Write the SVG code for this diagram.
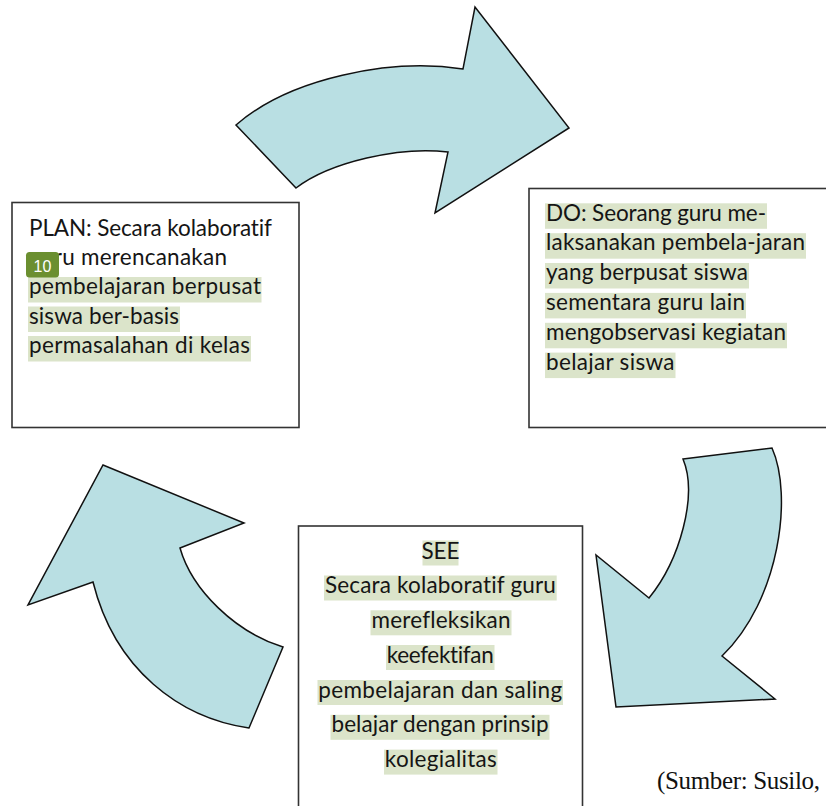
<svg xmlns="http://www.w3.org/2000/svg" width="826" height="806" viewBox="0 0 826 806">
<style>
.box{fill:#ffffff;stroke:#333333;stroke-width:1.6}
.arrow{fill:#b9dfe3;stroke:#111111;stroke-width:1.5;stroke-linejoin:miter}
.t{font-family:Lato,"Open Sans","Noto Sans",sans-serif;font-size:22.5px;fill:#151515;font-variant-ligatures:none;font-feature-settings:"liga" 0}
.c{text-anchor:middle}
.hl{fill:#dbe4ca}
.src{font-family:"Liberation Serif","Times New Roman",serif;font-size:25px;fill:#111111}
.badge{fill:#6b8f30}
.bt{font-family:"Liberation Sans",Arial,sans-serif;font-size:16px;fill:#ffffff;text-anchor:middle}
</style>
<rect width="826" height="806" fill="#ffffff"/>
<g id="connectors">
  <path id="arrow-plan-do" class="arrow" d="M236,125 C290,78 390,58 463,69 L475,7 L569,128 L435,213 L448,152 C400,146 330,162 296,188 Z"/>
  <path id="arrow-do-see" class="arrow" d="M683,459 L772,448 C793,495 780,600 722,656 L775,699 L616,707 L596,555 L649,598 C680,560 698,495 683,459 Z"/>
  <path id="arrow-see-plan" class="arrow" d="M103,465 L244,523 L180,548 C192,590 235,632 283,647 L249,728 C180,718 115,670 93,582 L28,605 Z"/>
</g>
<g id="plan">
  <rect class="box" x="12" y="202.5" width="287" height="225"/>
  <rect class="hl" x="28" y="277" width="233.5" height="25.5"/>
  <rect class="hl" x="28" y="306.5" width="152" height="25.5"/>
  <rect class="hl" x="28" y="336" width="223" height="25.5"/>
  <text class="t" x="29" y="236" textLength="243">PLAN: Secara kolaboratif</text>
  <text class="t" x="29" y="265" textLength="198">guru merencanakan</text>
  <text class="t" x="29" y="294" textLength="232">pembelajaran berpusat</text>
  <text class="t" x="29" y="323.5" textLength="150">siswa ber-basis</text>
  <text class="t" x="29" y="353" textLength="221">permasalahan di kelas</text>
</g>
<g id="badge">
  <rect class="badge" x="26" y="252" width="33" height="25.5" rx="3.5"/>
  <text class="bt" x="42.5" y="271.5">10</text>
</g>
<g id="do">
  <rect class="box" x="529" y="188.5" width="320" height="239"/>
  <rect class="hl" x="545" y="203.3" width="222" height="25.5"/>
  <rect class="hl" x="545" y="233.2" width="261" height="25.5"/>
  <rect class="hl" x="545" y="263" width="204" height="25.5"/>
  <rect class="hl" x="545" y="292.9" width="201" height="25.5"/>
  <rect class="hl" x="545" y="322.8" width="242" height="25.5"/>
  <rect class="hl" x="545" y="352.6" width="130.5" height="25.5"/>
  <text class="t" x="546" y="220.5" textLength="220">DO: Seorang guru me-</text>
  <text class="t" x="546" y="250.4" textLength="259">laksanakan pembela-jaran</text>
  <text class="t" x="546" y="280.2" textLength="202">yang berpusat siswa</text>
  <text class="t" x="546" y="310.1" textLength="199">sementara guru lain</text>
  <text class="t" x="546" y="340" textLength="240">mengobservasi kegiatan</text>
  <text class="t" x="546" y="369.8" textLength="128.5">belajar siswa</text>
</g>
<g id="see">
  <rect class="box" x="298.5" y="526" width="284" height="300"/>
  <rect class="hl" x="422.5" y="540.5" width="36" height="25"/>
  <rect class="hl" x="324" y="575.5" width="232.7" height="25"/>
  <rect class="hl" x="370.5" y="610.3" width="141" height="25"/>
  <rect class="hl" x="386" y="645" width="108.5" height="25"/>
  <rect class="hl" x="317.5" y="680" width="245.5" height="25"/>
  <rect class="hl" x="330.5" y="714.8" width="219" height="25"/>
  <rect class="hl" x="384" y="749.6" width="113.5" height="25"/>
  <text class="t c" x="440.5" y="558.5">SEE</text>
  <text class="t c" x="440.4" y="593.3" textLength="231">Secara kolaboratif guru</text>
  <text class="t c" x="441" y="628" textLength="139">merefleksikan</text>
  <text class="t c" x="440.2" y="662.8" textLength="107">keefektifan</text>
  <text class="t c" x="440.2" y="697.6" textLength="244">pembelajaran dan saling</text>
  <text class="t c" x="440" y="732.4" textLength="217">belajar dengan prinsip</text>
  <text class="t c" x="440.8" y="767.2" textLength="112">kolegialitas</text>
</g>
<g id="source">
  <text class="src" x="657" y="788.5" textLength="163">(Sumber: Susilo,</text>
</g>
</svg>
